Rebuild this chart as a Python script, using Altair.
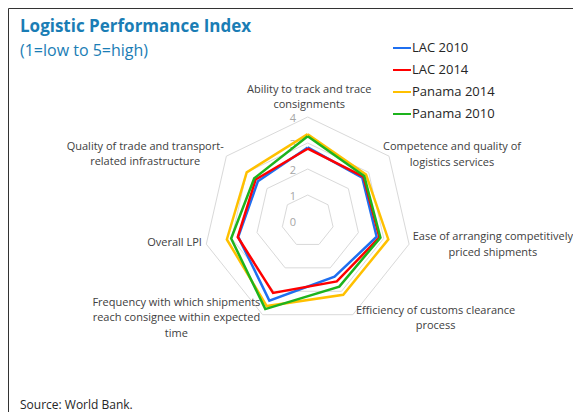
import altair as alt
import pandas as pd

# ---------------- data ----------------
AXES = [
    "Ability to track and trace consignments",
    "Competence and quality of logistics services",
    "Ease of arranging competitively priced shipments",
    "Efficiency of customs clearance process",
    "Frequency with which shipments reach consignee within expected time",
    "Overall LPI",
    "Quality of trade and transport-related infrastructure",
]
AXIS_LABEL_LINES = [
    ["Ability to track and trace", "consignments"],
    ["Competence and quality of", "logistics services"],
    ["Ease of arranging competitively", "priced shipments"],
    ["Efficiency of customs clearance", "process"],
    ["Frequency with which shipments", "reach consignee within expected", "time"],
    ["Overall LPI"],
    ["Quality of trade and transport-", "related infrastructure"],
]
SERIES = ["LAC 2010", "LAC 2014", "Panama 2014", "Panama 2010"]
LAC_2010 = [2.83, 2.68, 2.72, 2.38, 3.40, 2.74, 2.45]
LAC_2014 = [2.78, 2.74, 2.83, 2.58, 3.07, 2.76, 2.56]
PANAMA_2014 = [3.34, 2.87, 3.18, 3.15, 3.63, 3.19, 3.00]
PANAMA_2010 = [3.26, 2.78, 2.87, 2.80, 3.76, 3.02, 2.63]
TICKS = [0, 1, 2, 3, 4]
TITLE = "Logistic Performance Index"
SUBTITLE = "(1=low to 5=high)"
SOURCE = "Source: World Bank."

# ---------------- layout / style ----------------
COLORS = ["#1F6FF0", "#FF0000", "#FFC000", "#1DB31D"]
W, H = 565, 404
CX, CY, U = 299.7, 213.0, 26.0
N = len(AXES)
FONT = "Open Sans"
# first-line centre of each axis label (data units relative to the radar centre)
LABEL_XY = [(0.06, 5.04), (5.55, 2.84), (7.12, -0.62), (4.92, -3.46),
            (-5.05, -3.14), (-5.12, -0.85), (-6.25, 2.85)]

xs = alt.Scale(domain=[-CX / U, (W - CX) / U], nice=False, zero=False)
ys = alt.Scale(domain=[-(H - CY) / U, CY / U], nice=False, zero=False)

series_vals = [LAC_2010, LAC_2014, PANAMA_2014, PANAMA_2010]
rows = []
for s, vals in zip(SERIES, series_vals):
    for i in range(N + 1):
        rows.append({"series": s, "idx": i, "value": vals[i % N]})
df = pd.DataFrame(rows)

grid_rows = []
for r in TICKS[1:]:
    for i in range(N + 1):
        grid_rows.append({"ring": r, "idx": i})
grid_df = pd.DataFrame(grid_rows)

X = alt.X("x:Q", scale=xs, axis=None)
Y = alt.Y("y:Q", scale=ys, axis=None)

grid = (
    alt.Chart(grid_df)
    .transform_calculate(ang=f"datum.idx * 2 * PI / {N}")
    .transform_calculate(x="datum.ring * sin(datum.ang)", y="datum.ring * cos(datum.ang)")
    .mark_line(color="#D9D9D9", strokeWidth=1)
    .encode(x=X, y=Y, detail="ring:N", order="idx:Q")
)

ticks = (
    alt.Chart(pd.DataFrame({"t": TICKS}))
    .transform_calculate(x="-0.57", y="datum.t - 0.08", lab="'' + datum.t")
    .mark_text(font=FONT, fontSize=11, color="#A6A6A6", align="center", baseline="middle")
    .encode(x=X, y=Y, text="lab:N")
)

lines = (
    alt.Chart(df)
    .transform_calculate(ang=f"datum.idx * 2 * PI / {N}")
    .transform_calculate(x="datum.value * sin(datum.ang)", y="datum.value * cos(datum.ang)")
    .mark_line(strokeWidth=2.5, strokeJoin="miter")
    .encode(
        x=X,
        y=Y,
        color=alt.Color(
            "series:N",
            scale=alt.Scale(domain=SERIES, range=COLORS),
            legend=alt.Legend(
                title=None,
                orient="none",
                legendX=384,
                legendY=30,
                symbolType="stroke",
                symbolSize=324,
                symbolStrokeWidth=2,
                labelFont=FONT,
                labelFontSize=13,
                labelColor="#262626",
                labelOffset=0,
                rowPadding=5,
                padding=0,
            ),
        ),
        order="idx:Q",
    )
)

lab_df = pd.DataFrame({
    "axis": AXES,
    "text": AXIS_LABEL_LINES,
    "x": [p[0] for p in LABEL_XY],
    "y": [p[1] for p in LABEL_XY],
})
labels = (
    alt.Chart(lab_df)
    .mark_text(font=FONT, fontSize=11, color="#404040", align="center", baseline="middle", lineHeight=15.5)
    .encode(x=X, y=Y, text="text")
)

title = (
    alt.Chart(pd.DataFrame({"t": [TITLE]}))
    .mark_text(font=FONT, fontSize=17, fontWeight="bold", color="#1A7DB5", align="left", baseline="middle")
    .encode(x=alt.value(12), y=alt.value(19), text="t:N")
)
subtitle = (
    alt.Chart(pd.DataFrame({"t": [SUBTITLE]}))
    .mark_text(font=FONT, fontSize=16, color="#1A7DB5", align="left", baseline="middle")
    .encode(x=alt.value(12), y=alt.value(43), text="t:N")
)
source = (
    alt.Chart(pd.DataFrame({"t": [SOURCE]}))
    .mark_text(font=FONT, fontSize=12, color="#262626", align="left", baseline="middle")
    .encode(x=alt.value(12), y=alt.value(397), text="t:N")
)

chart = (
    alt.layer(grid, ticks, lines, labels, title, subtitle, source)
    .properties(width=W, height=H, autosize=alt.AutoSizeParams(type="none"), padding=0)
    .configure_view(stroke="#333333", strokeWidth=1)
)

chart.save("out.html", embed_options={"renderer": "svg", "actions": False})
